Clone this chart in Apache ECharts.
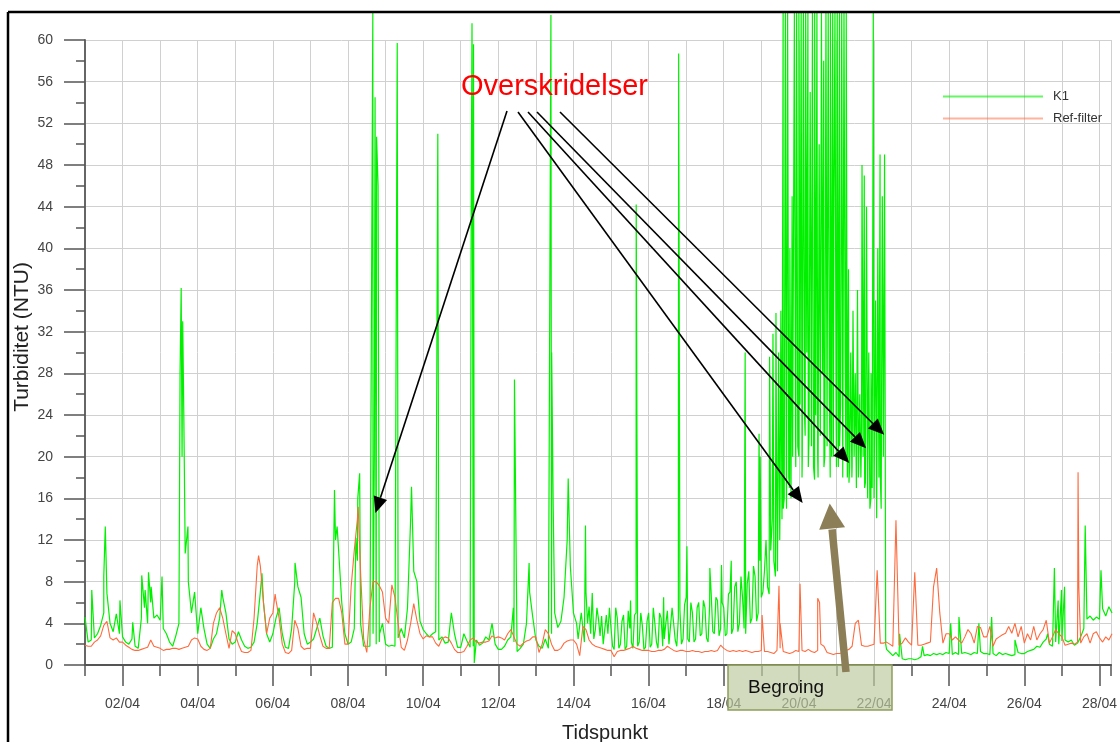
<!DOCTYPE html>
<html>
<head>
<meta charset="utf-8">
<title>Turbiditet K1 / Ref-filter</title>
<script src="https://cdn.jsdelivr.net/npm/echarts@6.0.0/dist/echarts.min.js"></script>
<style>
  body { margin: 0; background: #fff; }
  #chart { width: 1120px; height: 742px; }
</style>
</head>
<body>
<div id="chart"></div>
<script>
// x = days after 01/04 00:00, base readings every 2 hours
var stepDays = 1 / 12;

var k1Base = [
  4.6, 2.2, 2.4, 2.6, 3.0, 3.8, 5.0, 6.9, 4.0, 3.2, 4.9, 3.0,
  2.7, 2.2, 2.0, 2.5, 1.8, 1.6, 4.5, 5.5, 4.0, 6.0, 4.5, 4.8,
  4.3, 3.5, 3.0, 2.2, 1.8, 2.8, 4.0, 20.0, 10.7, 8.0, 5.0, 7.0,
  3.0, 5.5, 3.5, 2.0, 1.6, 2.5, 3.0, 4.5, 6.5, 5.0, 2.5, 2.0,
  2.2, 3.2, 2.4, 1.8, 1.6, 1.7, 2.2, 4.0, 7.0, 6.0, 3.0, 2.2,
  3.0, 4.5, 5.5, 3.0, 1.7, 1.6, 3.5, 8.0, 7.5, 6.5, 3.0, 2.0,
  2.2, 2.5, 3.5, 4.5, 2.8, 1.8, 1.6, 1.7, 12.0, 11.0, 6.0, 3.0,
  2.0, 2.2, 3.5, 10.0, 4.0, 1.8, 1.8, 1.8, 3.0, 2.0, 2.2, 4.0,
  2.0, 1.8, 1.9, 1.8, 2.6, 3.5, 2.6, 5.5, 14.0, 9.0, 8.0, 4.2,
  3.4, 3.0, 2.7, 3.0, 3.2, 2.4, 2.7, 2.1, 2.2, 5.0, 3.0, 1.7,
  1.7, 3.0, 2.3, 1.7, 1.8, 2.4, 1.9, 2.1, 2.7, 2.4, 4.0, 2.0,
  1.5, 1.5, 1.8, 2.4, 2.7, 2.2, 1.3, 1.6, 2.0, 4.0, 7.0, 4.6,
  2.4, 1.8, 1.6, 2.5, 1.6, 3.0, 5.0, 3.6, 4.2, 6.5, 12.0, 9.5,
  5.0, 4.0, 3.8, 3.6, 7.0, 5.6, 6.9, 3.4, 4.4, 4.7, 3.4, 3.0,
  3.5, 1.5, 4.5, 2.0, 4.8, 1.8, 3.5, 1.6, 5.0, 2.2, 3.8, 1.7,
  5.0, 2.0, 4.0, 1.6, 4.5, 2.5, 5.2, 2.0, 4.0, 1.8, 5.3, 2.5,
  6.5, 2.2, 5.0, 2.5, 6.0, 3.0, 5.5, 2.2, 6.8, 3.0, 6.2, 3.5,
  5.5, 3.0, 7.0, 3.5, 8.0, 4.0, 6.5, 3.0, 9.0, 4.5, 8.5, 5.0,
  6.5, 9.0, 7.5, 11.0, 10.0, 14.0, 16.0, 15.0, 18.0, 17.0, 20.0, 19.0,
  20, 18, 22, 19, 21, 17.8, 20, 22, 19, 21, 18, 20,
  19, 21, 18, 20, 17.5, 19, 20, 18, 22, 17, 19, 16,
  16, 14.1, 18, 20, 1.5, 1.2, 0.9, 1.2, 0.8, 0.6, 0.5, 0.6,
  0.6, 0.5, 0.6, 0.8, 0.9, 1.0, 0.9, 1.1, 1.0, 1.1, 1.0, 1.2,
  1.1, 1.0, 1.2, 1.0, 1.1, 1.2, 1.1, 1.0, 1.2, 1.1, 1.3, 1.1,
  1.1, 1.0, 1.1, 0.9, 1.2, 1.0, 1.1, 1.0, 0.9, 1.0, 1.2, 1.1,
  1.1, 1.3, 1.4, 1.5, 1.8, 1.7, 2.2, 2.5, 2.0, 1.8, 2.2, 2.0,
  2.3, 2.4, 2.2, 2.4, 1.9, 2.1, 2.7, 3.5, 4.4, 4.7, 4.3, 4.6,
  4.4, 5.4, 4.7, 5.6, 5.0
];

// odd-hour readings in the noisy stretch 14/04 - 19/04 (first one at 13/04 01:00)
var k1OddStart = 13;
var k1Odd = [
  4.5, 2.5, 5.0, 2.2, 4.0, 3.0, 2.5, 5.5, 2.8, 2.0, 4.8, 5.5,
  1.8, 5.5, 1.6, 4.2, 1.5, 5.2, 2.2, 4.8, 1.8, 5.0, 1.5, 4.2,
  1.7, 5.5, 2.2, 5.0, 1.8, 4.0, 2.0, 5.5, 2.4, 4.5, 2.0, 5.8,
  2.5, 6.0, 2.2, 5.5, 2.8, 6.2, 2.6, 5.8, 3.2, 6.5, 2.8, 6.0,
  2.8, 6.8, 3.0, 7.5, 3.2, 8.5, 3.5, 7.8, 4.0, 9.5, 4.2, 10.0,
  7.0, 12.0, 6.8, 14.0, 8.5
];

// short peaks between the 2-hour readings [day, NTU]
var k1Spikes = [
  [0.18, 7.2], [0.50, 8.5], [0.54, 13.3], [0.63, 7.0], [0.93, 6.2],
  [1.27, 4.1], [1.51, 8.6], [1.60, 7.2], [1.69, 8.9], [1.76, 7.5],
  [2.05, 8.5], [2.53, 28], [2.56, 36.2], [2.60, 33], [2.63, 24], [2.74, 13.3],
  [3.64, 7.2], [4.71, 8.8], [5.59, 9.8], [6.64, 16.8], [6.71, 13.3],
  [7.21, 12.2], [7.26, 16.0], [7.31, 18.4], [7.66, 62.6], [7.70, 20], [7.72, 54.5],
  [7.76, 50.7], [7.80, 46], [7.84, 3],
  [8.31, 59.7], [8.69, 17.1], [9.39, 51.0],
  [10.28, 45], [10.30, 61.6], [10.32, 30], [10.34, 59.6], [10.36, 0.2],
  [11.40, 5.5], [11.43, 27.4], [11.82, 9.8],
  [12.40, 62.4], [12.42, 30], [12.46, 15.4], [12.86, 17.9],
  [13.32, 13.4], [14.52, 6.2], [14.67, 44.2], [15.40, 6.5], [15.80, 58.7],
  [16.02, 11.4], [16.63, 9.3], [16.94, 9.6],
  [17.20, 10], [17.57, 30.0], [17.94, 22.2], [17.97, 20],
  [18.22, 29.6], [18.31, 31.8], [18.39, 33.8],
  [21.68, 3.0], [22.29, 1.8], [23.04, 4.0], [23.26, 4.6], [23.79, 4.0], [24.13, 4.6],
  [24.75, 2.4], [25.62, 3.0], [25.80, 9.3], [25.90, 6.2], [25.99, 7.2], [26.07, 7.5],
  [26.62, 13.4], [27.04, 9.1]
];

// the overgrown period 19/04 - 22/04
var k1Cluster = [
  [18.40, 24], [18.43, 9], [18.46, 30], [18.49, 12], [18.52, 34], [18.55, 14],
  [18.58, 62.6], [18.61, 16], [18.64, 62.6], [18.67, 15], [18.70, 62.6], [18.73, 18],
  [18.76, 40], [18.79, 16], [18.82, 45], [18.85, 20], [18.88, 62.6], [18.91, 22],
  [18.94, 62.6], [18.97, 21], [19.00, 62.6], [19.03, 25], [19.06, 62.6], [19.09, 20],
  [19.12, 62.6], [19.15, 24], [19.18, 62.6], [19.21, 30], [19.24, 62.6], [19.27, 22],
  [19.30, 55], [19.33, 26], [19.36, 62.6], [19.39, 19], [19.42, 62.6], [19.45, 24],
  [19.48, 62.6], [19.51, 18], [19.54, 50], [19.57, 22], [19.60, 62.6], [19.63, 28],
  [19.66, 58], [19.69, 20], [19.72, 62.6], [19.75, 23], [19.78, 62.6], [19.81, 26],
  [19.84, 62.6], [19.87, 20], [19.90, 62.6], [19.93, 42], [19.96, 62.6], [19.99, 24],
  [20.02, 62.6], [20.05, 19], [20.08, 62.6], [20.11, 25], [20.14, 62.6], [20.17, 21],
  [20.20, 62.6], [20.23, 30], [20.26, 62.6], [20.29, 18], [20.32, 38], [20.35, 19],
  [20.38, 30], [20.41, 18], [20.44, 34], [20.47, 20], [20.50, 28], [20.53, 17],
  [20.56, 36], [20.59, 19], [20.62, 26], [20.65, 18], [20.68, 48], [20.71, 20],
  [20.74, 47], [20.77, 17.5], [20.80, 44], [20.83, 16], [20.86, 30], [20.89, 15],
  [20.92, 28], [20.95, 17], [20.98, 62.6], [21.01, 16], [21.04, 35], [21.07, 14.1],
  [21.10, 40], [21.13, 18], [21.16, 49], [21.19, 15], [21.22, 45], [21.25, 20],
  [21.28, 49], [21.31, 2.0]
];

var refBase = [
  1.9, 1.8, 1.8, 2.2, 2.4, 2.8, 3.8, 4.2, 2.6, 2.4, 2.6, 2.2,
  2.2, 1.9, 1.7, 1.5, 1.4, 1.4, 1.5, 1.6, 1.7, 2.4, 1.8, 1.7,
  1.6, 1.4, 1.5, 1.5, 1.6, 1.6, 1.5, 1.6, 1.7, 1.8, 2.4, 2.6,
  2.5, 1.8, 1.5, 1.4, 1.6, 4.0, 5.0, 5.5, 4.5, 3.0, 1.6, 3.3,
  3.0, 2.0, 1.3, 1.2, 1.2, 1.4, 4.5, 9.5, 9.5, 6.0, 3.0, 4.5,
  5.0, 6.2, 4.5, 2.0, 1.2, 1.1, 1.4, 4.3, 3.5, 1.8, 1.5, 1.6,
  1.6, 5.0, 4.0, 2.8, 1.8, 1.6, 1.6, 6.0, 6.4, 6.4, 5.0, 2.0,
  2.0, 7.5, 11.0, 14.0, 9.0, 2.5, 1.2, 5.5, 8.0, 8.0, 7.6, 7.0,
  4.5, 4.0, 7.7, 6.5, 4.0, 1.7, 1.4, 2.4, 4.0, 5.9, 4.3, 3.0,
  2.5, 2.8, 2.7, 2.7, 2.1, 1.8, 2.5, 2.7, 2.6, 2.1, 1.5, 1.2,
  1.2, 1.3, 1.8, 2.4, 2.6, 2.2, 2.1, 2.2, 2.2, 2.3, 2.8, 2.6,
  2.7, 2.6, 2.4, 3.0, 3.4, 2.7, 2.0, 1.8, 2.1, 2.3, 2.4, 2.7,
  2.7, 1.2, 2.0, 3.4, 3.0, 2.0, 1.4, 1.4, 1.6, 2.1, 2.3, 2.4,
  2.4, 2.0, 0.9, 3.7, 3.4, 2.4, 2.0, 1.8, 1.7, 1.6, 1.5, 1.4,
  1.4, 0.8, 1.3, 1.4, 1.4, 1.5, 1.6, 1.8, 1.6, 1.5, 1.4, 1.4,
  1.4, 1.3, 1.3, 1.4, 1.4, 1.5, 1.8, 1.6, 1.4, 1.3, 1.4, 1.4,
  1.3, 1.3, 1.4, 1.3, 1.3, 1.2, 1.3, 1.3, 1.4, 1.3, 1.4, 1.9,
  1.6, 1.4, 1.3, 1.4, 1.3, 1.4, 1.3, 1.4, 1.3, 1.2, 1.3, 1.3,
  1.4, 1.3, 1.3, 1.2, 1.1, 1.4, 1.6, 1.3, 1.2, 1.1, 1.2, 1.4,
  1.3, 1.4, 1.3, 1.5, 1.3, 1.2, 1.4, 2.0, 1.8, 1.2, 1.1, 1.0,
  1.1, 1.1, 1.2, 1.4, 1.5, 1.8, 4.0, 4.3, 1.9, 1.8, 1.8, 1.9,
  2.0, 9.1, 2.1, 2.1, 2.2, 2.0, 1.8, 13.9, 1.9, 2.1, 2.6, 2.2,
  1.9, 8.9, 1.9, 1.9, 2.0, 2.1, 2.2, 7.5, 9.3, 5.0, 2.1, 3.0,
  3.0, 2.4, 2.7, 2.4, 2.1, 2.7, 3.4, 3.0, 2.1, 3.7, 3.6, 2.7,
  2.7, 3.7, 1.8, 2.5, 2.7, 2.9, 3.05, 3.7, 3.05, 4.0, 2.7, 3.7,
  2.1, 3.0, 2.4, 3.7, 2.4, 3.0, 3.4, 4.3, 2.1, 2.7, 3.4, 3.0,
  2.7, 1.9, 2.0, 2.1, 2.0, 2.2, 2.1, 2.7, 3.0, 2.1, 3.0, 3.2,
  2.6, 2.2, 2.7, 2.4, 3.0
];

var refSpikes = [
  [4.62, 10.5], [5.06, 6.8], [7.27, 15.2], [18.02, 4.8], [18.47, 7.6], [18.50, 4.0],
  [19.03, 7.8], [19.50, 6.4], [19.55, 6.0], [26.43, 18.5], [26.45, 7.5]
];

var labelDays = [1, 3, 5, 7, 9, 11, 13, 15, 17, 19, 21, 23, 25, 27];
var xMax = 27.31;

// arrows: start in pixels near the text, tip in data coordinates
var arrowStarts = [[507, 111], [518, 112], [528, 112], [537, 112], [560, 112]];
var arrowTips = [[7.73, 14.6], [19.10, 15.55], [20.34, 19.4], [20.79, 20.8], [21.27, 22.1]];

function merge(base, extra) {
    var out = base.map(function (v, i) { return [i * stepDays, v]; });
    for (var i = 0; i < extra.length; i++) out.push(extra[i]);
    out.sort(function (a, b) { return a[0] - b[0]; });
    return out;
}

var k1OddPoints = k1Odd.map(function (v, i) { return [k1OddStart + (2 * i + 1) / 24, v]; });
var k1Data = merge(k1Base, k1Spikes.concat(k1Cluster, k1OddPoints));
var refData = merge(refBase, refSpikes);

var font = 'Liberation Sans';
var axisColor = '#555';
var gridColor = '#d0d0d0';

var chart = echarts.init(document.getElementById('chart'), null, {renderer: 'canvas'});

var option = {
    animation: false,
    backgroundColor: '#fff',
    grid: {left: 85, right: 0, top: 40, bottom: 77, containLabel: false},
    legend: {
        orient: 'vertical',
        left: 943,
        top: 90,
        padding: 0,
        icon: 'rect',
        itemWidth: 100,
        itemHeight: 2,
        itemGap: 9,
        data: [
            {name: 'K1', itemStyle: {opacity: 0.6}},
            {name: 'Ref-filter', itemStyle: {opacity: 0.5}}
        ],
        textStyle: {fontFamily: font, fontSize: 13, color: '#333', padding: [0, 0, 0, 5]}
    },
    xAxis: [
        {
            type: 'value', min: 0, max: xMax, interval: 1,
            axisLine: {show: true, lineStyle: {color: axisColor, width: 2}},
            axisTick: {show: true, length: 11, lineStyle: {color: axisColor, width: 1.5}},
            splitLine: {show: true, lineStyle: {color: gridColor, width: 1}},
            axisLabel: {
                customValues: labelDays,
                margin: 32,
                fontFamily: font, fontSize: 14, color: '#444',
                formatter: function (v) {
                    var day = Math.round(v) + 1;
                    return (day < 10 ? '0' : '') + day + '/04';
                }
            }
        },
        {
            type: 'value', min: 0, max: xMax, position: 'bottom',
            axisLine: {show: false},
            axisTick: {show: true, customValues: labelDays, length: 21, lineStyle: {color: axisColor, width: 1.5}},
            axisLabel: {show: false},
            splitLine: {show: false}
        }
    ],
    yAxis: {
        type: 'value', min: 0, max: 60, interval: 4,
        axisLine: {show: true, lineStyle: {color: '#666', width: 2}},
        axisTick: {show: true, length: 21, lineStyle: {color: axisColor, width: 1.5}},
        minorTick: {show: true, splitNumber: 2, length: 9, lineStyle: {color: axisColor, width: 1.5}},
        splitLine: {show: true, lineStyle: {color: gridColor, width: 1}},
        axisLabel: {margin: 32, fontFamily: font, fontSize: 14, color: '#444'}
    },
    series: [
        {
            name: 'K1', type: 'line', data: k1Data, xAxisIndex: 0,
            showSymbol: false, symbol: 'none', clip: false,
            lineStyle: {color: '#00f000', width: 1.2},
            itemStyle: {color: '#00f000'}
        },
        {
            name: 'Ref-filter', type: 'line', data: refData, xAxisIndex: 0,
            showSymbol: false, symbol: 'none', clip: false,
            lineStyle: {color: '#ff6a3d', width: 1.1},
            itemStyle: {color: '#ff6a3d'}
        }
    ]
};
chart.setOption(option);

function arrowHead(sx, sy, tx, ty, len, half) {
    var dx = tx - sx, dy = ty - sy;
    var n = Math.sqrt(dx * dx + dy * dy);
    var ux = dx / n, uy = dy / n;
    var bx = tx - ux * len, by = ty - uy * len;
    return {
        base: [bx, by],
        points: [[tx, ty], [bx - uy * half, by + ux * half], [bx + uy * half, by - ux * half]]
    };
}

var graphics = [
    // outer frame of the original figure
    {type: 'line', z: 100, shape: {x1: 8, y1: 12, x2: 1120, y2: 12}, style: {stroke: '#000', lineWidth: 2.5}},
    {type: 'line', z: 100, shape: {x1: 8, y1: 12, x2: 8, y2: 742}, style: {stroke: '#000', lineWidth: 2.5}},
    {type: 'text', z: 100, x: 22, y: 337, rotation: Math.PI / 2,
        style: {text: 'Turbiditet (NTU)', font: '21px "Liberation Sans"', fill: '#222', align: 'center', verticalAlign: 'middle'}},
    {type: 'text', z: 100, x: 605, y: 723,
        style: {text: 'Tidspunkt', font: '20px "Liberation Sans"', fill: '#222', align: 'center', verticalAlign: 'top'}},
    {type: 'text', z: 100, x: 461, y: 72,
        style: {text: 'Overskridelser', font: '29px "Liberation Sans"', fill: '#ff0000', align: 'left', verticalAlign: 'top'}},
    {type: 'rect', z: 100, shape: {x: 728, y: 665, width: 164, height: 45},
        style: {fill: 'rgba(190,202,160,0.68)', stroke: '#8f9d5c', lineWidth: 1.5}},
    {type: 'text', z: 101, x: 748, y: 678,
        style: {text: 'Begroing', font: '19px "Liberation Sans"', fill: '#111', align: 'left', verticalAlign: 'top'}}
];

for (var i = 0; i < arrowStarts.length; i++) {
    var s = arrowStarts[i];
    var t = chart.convertToPixel({xAxisIndex: 0, yAxisIndex: 0}, arrowTips[i]);
    var h = arrowHead(s[0], s[1], t[0], t[1], 16, 7);
    graphics.push({type: 'line', z: 102, shape: {x1: s[0], y1: s[1], x2: h.base[0], y2: h.base[1]},
        style: {stroke: '#000', lineWidth: 1.6}});
    graphics.push({type: 'polygon', z: 102, shape: {points: h.points}, style: {fill: '#000'}});
}

// thick brown arrow from the Begroing box
var brownTip = chart.convertToPixel({xAxisIndex: 0, yAxisIndex: 0}, [19.82, 15.5]);
var brownHead = arrowHead(846, 672, brownTip[0], brownTip[1], 25, 13);
graphics.push({type: 'line', z: 102, shape: {x1: 846, y1: 672, x2: brownHead.base[0], y2: brownHead.base[1] + 1},
    style: {stroke: '#8c7e56', lineWidth: 7.5}});
graphics.push({type: 'polygon', z: 102, shape: {points: brownHead.points}, style: {fill: '#8c7e56'}});

chart.setOption({graphic: graphics});
</script>
</body>
</html>
